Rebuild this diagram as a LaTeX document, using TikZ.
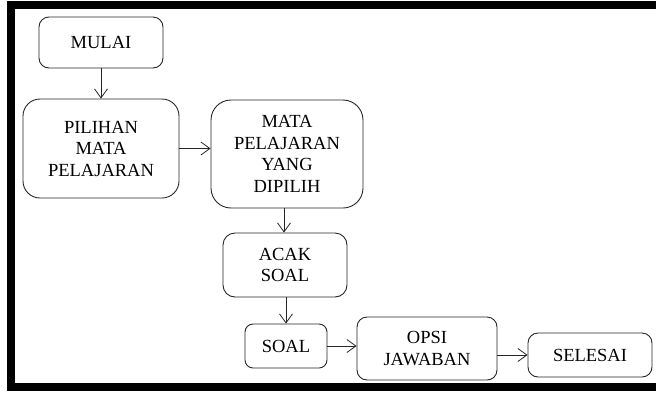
\documentclass[tikz,border=0pt]{standalone}
\usepackage{fontspec}
\setmainfont{Liberation Serif}
\usetikzlibrary{arrows.meta}
\begin{document}
\begin{tikzpicture}[x=1pt,y=-1pt,
  box/.style={draw=black!85,line width=0.9pt,inner sep=0pt,align=center,
    font=\fontsize{18.5}{21.5}\selectfont},
  conn/.style={draw=black!85,line width=0.8pt,-{Straight Barb[length=9pt,width=13pt,line width=0.8pt]}}]
\useasboundingbox (0,0) rectangle (656,392);
\clip (0,0) rectangle (656,392);
\draw[line width=8pt] (11,5) rectangle (690,387);
\node[box,rounded corners=10pt,minimum width=124pt,minimum height=51pt] (mulai) at (101,42.5) {MULAI};
\node[box,rounded corners=17pt,minimum width=156pt,minimum height=99pt] (pilihan) at (101,148.5) {PILIHAN\\MATA\\PELAJARAN};
\node[box,rounded corners=20pt,minimum width=152pt,minimum height=108pt] (mata) at (287,154) {MATA\\PELAJARAN\\YANG\\DIPILIH};
\node[box,rounded corners=12pt,minimum width=124pt,minimum height=64pt] (acak) at (285,265) {ACAK\\SOAL};
\node[box,rounded corners=8pt,minimum width=82pt,minimum height=44pt] (soal) at (286,346) {SOAL};
\node[box,rounded corners=10pt,minimum width=140pt,minimum height=63pt] (opsi) at (427,348.5) {OPSI\\JAWABAN};
\node[box,rounded corners=10pt,minimum width=124pt,minimum height=44pt] (selesai) at (590,355) {SELESAI};
\coordinate (a1) at (mulai.south);
\draw[conn] (mulai.south) -- (pilihan.north);
\draw[conn] (pilihan.east) -- (pilihan.east -| mata.west);
\draw[conn] ([xshift=-1pt]acak.north |- mata.south) -- ([xshift=-1pt]acak.north);
\draw[conn] (soal.north |- acak.south) -- (soal.north);
\draw[conn] (soal.east) -- (soal.east -| opsi.west);
\draw[conn] (selesai.west -| opsi.east) -- (selesai.west);
\end{tikzpicture}
\end{document}
